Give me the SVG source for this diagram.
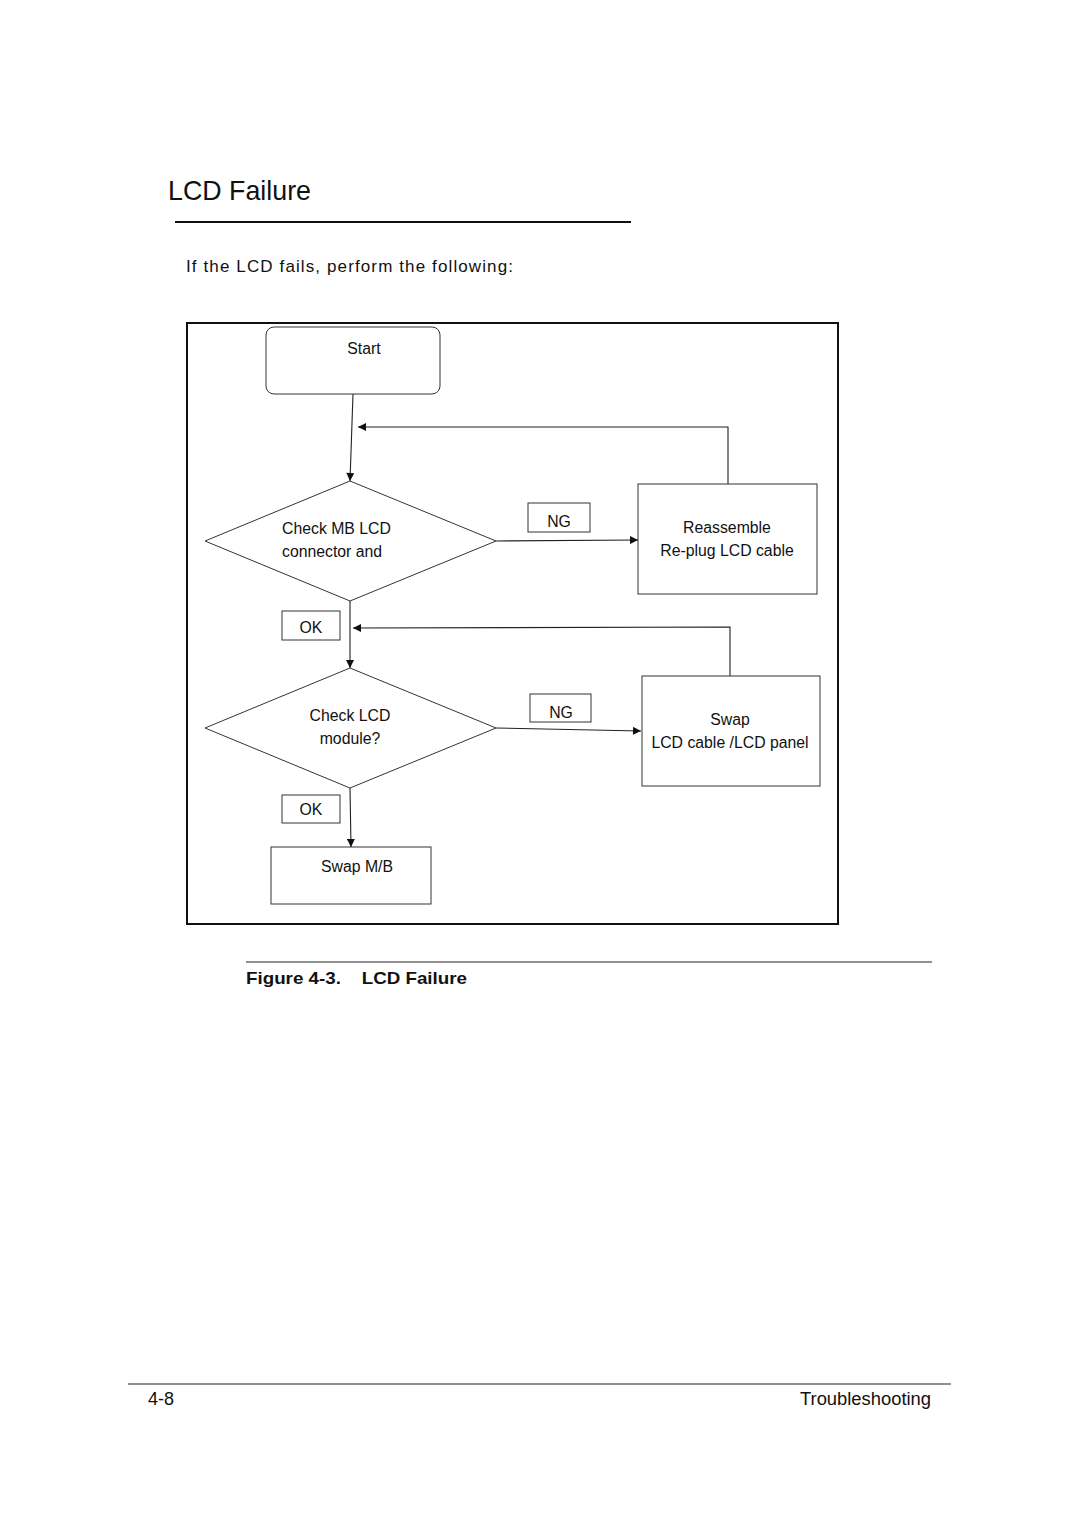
<svg xmlns="http://www.w3.org/2000/svg" width="1080" height="1527" viewBox="0 0 1080 1527">
<style>
.pg{font-family:"Liberation Sans",Arial,sans-serif;fill:#111}
.fc{font-family:"Liberation Sans",Arial,sans-serif;font-size:15.8px;fill:#111}
.mid{text-anchor:middle}
.box{fill:#fff;stroke:#333;stroke-width:1}
.ln{fill:none;stroke:#222;stroke-width:1.1}
.rule{stroke:#222;stroke-width:1.2}
</style>
<defs>
<marker id="ah" viewBox="0 0 10 10" refX="10" refY="5" markerWidth="9" markerHeight="8" markerUnits="userSpaceOnUse" orient="auto">
<path d="M0,0 L10,5 L0,10 z" fill="#111"/>
</marker>
</defs>
<rect width="1080" height="1527" fill="#fff"/>
<text class="pg" x="168" y="200" font-size="27.5" textLength="143" lengthAdjust="spacingAndGlyphs">LCD Failure</text>
<line x1="175" y1="222" x2="631" y2="222" stroke="#111" stroke-width="2"/>
<text class="pg" x="186" y="272" font-size="17" textLength="327" lengthAdjust="spacing">If the LCD fails, perform the following:</text>
<rect x="187" y="323" width="651" height="601" fill="none" stroke="#111" stroke-width="2"/>
<g id="connectors">
<path class="ln" d="M353,394 L350,481" marker-end="url(#ah)"/>
<path class="ln" d="M728,484 L728,427 L358,427" marker-end="url(#ah)"/>
<path class="ln" d="M496,541 L638,540" marker-end="url(#ah)"/>
<path class="ln" d="M350,601 L350,668" marker-end="url(#ah)"/>
<path class="ln" d="M730,676 L730,627 L353,628" marker-end="url(#ah)"/>
<path class="ln" d="M496,728 L641,731" marker-end="url(#ah)"/>
<path class="ln" d="M350,788 L351,847" marker-end="url(#ah)"/>
</g>
<g id="start">
<rect class="box" x="266" y="327" width="174" height="67" rx="8"/>
<text class="fc mid" x="364" y="354">Start</text>
</g>
<g id="check-mb">
<polygon class="box" points="205,541 350,481 496,541 350,601"/>
<text class="fc" x="282" y="534">Check MB LCD</text>
<text class="fc" x="282" y="557">connector and</text>
</g>
<g id="ng1">
<rect class="box" x="528" y="503" width="62" height="29"/>
<text class="fc mid" x="559" y="527">NG</text>
</g>
<g id="reassemble">
<rect class="box" x="638" y="484" width="179" height="110"/>
<text class="fc mid" x="727" y="533">Reassemble</text>
<text class="fc mid" x="727" y="556">Re-plug LCD cable</text>
</g>
<g id="ok1">
<rect class="box" x="282" y="611" width="58" height="29"/>
<text class="fc mid" x="311" y="633">OK</text>
</g>
<g id="check-lcd">
<polygon class="box" points="205,728 350,668 496,728 350,788"/>
<text class="fc mid" x="350" y="721">Check LCD</text>
<text class="fc mid" x="350" y="744">module?</text>
</g>
<g id="ng2">
<rect class="box" x="530" y="694" width="61" height="28"/>
<text class="fc mid" x="561" y="718">NG</text>
</g>
<g id="swap-lcd">
<rect class="box" x="642" y="676" width="178" height="110"/>
<text class="fc mid" x="730" y="725">Swap</text>
<text class="fc mid" x="730" y="748">LCD cable /LCD panel</text>
</g>
<g id="ok2">
<rect class="box" x="282" y="795" width="58" height="28"/>
<text class="fc mid" x="311" y="815">OK</text>
</g>
<g id="swap-mb">
<rect class="box" x="271" y="847" width="160" height="57"/>
<text class="fc mid" x="357" y="872">Swap M/B</text>
</g>
<line class="rule" x1="246" y1="962" x2="932" y2="962"/>
<text class="pg" x="246" y="984" font-size="17" font-weight="bold" textLength="221" lengthAdjust="spacingAndGlyphs" xml:space="preserve">Figure 4-3.    LCD Failure</text>
<line class="rule" x1="128" y1="1384" x2="951" y2="1384"/>
<text class="pg" x="148" y="1405" font-size="18" textLength="26" lengthAdjust="spacingAndGlyphs">4-8</text>
<text class="pg" x="800" y="1405" font-size="18" textLength="131" lengthAdjust="spacingAndGlyphs">Troubleshooting</text>
</svg>
